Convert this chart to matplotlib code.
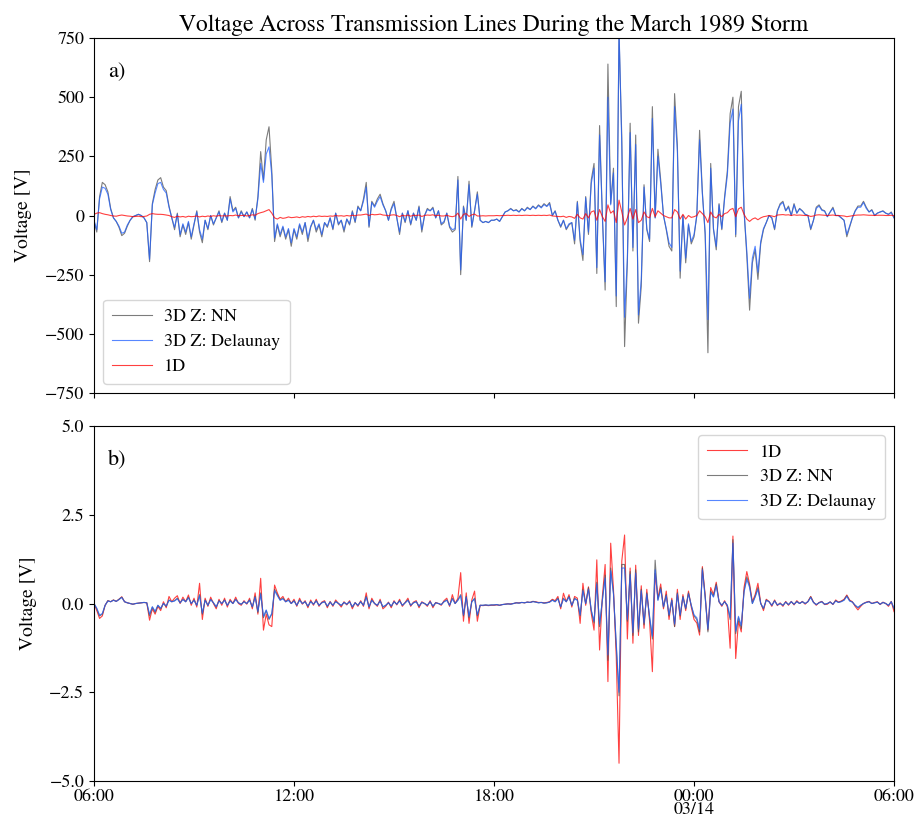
import numpy as np
import matplotlib
matplotlib.use("Agg")
import matplotlib.pyplot as plt
from matplotlib.ticker import FuncFormatter

plt.rcParams['font.family'] = ['STIXGeneral', 'DejaVu Serif']
plt.rcParams['mathtext.fontset'] = 'stix'
plt.rcParams['axes.unicode_minus'] = True

# ---------------- data (5-minute samples, 1989-03-13 06:00 -> 03-14 06:00) ----------------
start = np.datetime64('1989-03-13T06:00')
step_minutes = 5

# Panel a) large line [V]
nn_a = [
    -25, -70, 80, 140, 130, 100, 30, -10, -25, -50, -85, -75,
    -45, -20, -5, 0, 5, 0, -10, -30, -195, 50, 110, 150,
    160, 120, 105, 40, -10, -60, 10, -90, -40, -80, -30, -100,
    -40, 20, -70, -115, -20, -60, 0, -40, -10, 20, -30, 10,
    -20, 80, 20, 35, -10, 20, -5, 15, -10, 30, -20, 80,
    270, 150, 320, 375, 190, -110, -40, -90, -50, -100, -60, -130,
    -60, -100, -40, -80, -30, -110, -50, -20, -70, -40, -90, -30,
    -50, -10, -60, 10, -40, -20, -70, -15, -40, 20, -30, 40,
    20, 70, 140, -50, 60, 40, 70, 90, 50, 20, -20, 30,
    60, -10, -80, 10, -30, 20, -40, 10, -20, 40, -70, 0,
    30, 20, 35, -10, 20, -40, -30, 10, -50, -70, -60, 165,
    -250, 40, -20, 145, -50, 20, 100, -20, -30, -25, -30, -20,
    -20, -15, -25, -5, 15, 20, 30, 20, 25, 15, 30, 20,
    35, 25, 40, 30, 45, 35, 50, 40, 55, 0, 20, -20,
    -50, -20, -60, -40, -30, -120, 60, -110, -190, 80, -80, 150,
    220, -245, 380, 0, -315, 640, 50, 200, -385, 770, 330, -554,
    -200, 390, -150, 340, -455, -300, 130, -60, -110, 460, -10, 280,
    150, 0, -60, -130, -150, 515, 300, -265, 0, -200, -40, -120,
    -90, 0, 360, 100, -80, -580, 220, -60, -145, 50, -60, 80,
    190, 430, 500, -90, 460, 525, 20, -170, -400, -200, -145, -270,
    -120, -60, -30, 0, -10, -60, 20, 50, 60, 20, 40, 0,
    50, 10, 30, 20, 5, 0, -60, -20, 35, 45, 25, 20,
    -5, 15, 35, 0, 0, -10, -20, -90, -50, -10, 20, 40,
    40, 60, 35, 15, 25, 0, 10, 15, 20, 10, 5, 15, -10,
]
delaunay_a = [
    -20, -60, 70, 120, 115, 90, 25, -10, -25, -45, -75, -70,
    -40, -20, -5, 0, 5, 0, -10, -30, -185, 45, 95, 135,
    140, 110, 95, 35, -10, -50, 5, -80, -35, -70, -25, -90,
    -35, 15, -60, -100, -20, -55, 0, -35, -10, 15, -25, 10,
    -20, 70, 15, 30, -10, 15, -5, 15, -10, 25, -15, 70,
    220, 140, 260, 290, 170, -95, -35, -80, -45, -90, -55, -115,
    -55, -90, -35, -70, -30, -95, -45, -20, -60, -35, -80, -30,
    -45, -10, -55, 10, -35, -20, -60, -15, -35, 15, -25, 35,
    20, 60, 120, -45, 55, 35, 60, 80, 45, 20, -20, 25,
    50, -10, -70, 10, -25, 20, -35, 10, -20, 35, -60, 0,
    25, 20, 30, -10, 20, -35, -25, 10, -45, -60, -55, 150,
    -230, 35, -20, 130, -45, 20, 90, -20, -30, -25, -30, -20,
    -20, -15, -25, -5, 15, 20, 28, 20, 22, 15, 28, 20,
    32, 25, 38, 28, 42, 32, 46, 38, 50, 0, 18, -20,
    -45, -20, -55, -35, -30, -105, 55, -100, -165, 75, -70, 135,
    200, -220, 340, 0, -280, 500, 45, 180, -340, 790, 290, -430,
    -180, 350, -135, 300, -420, -270, 120, -55, -100, 410, -10, 250,
    135, 0, -55, -115, -135, 460, 270, -235, 0, -180, -35, -110,
    -80, 0, 320, 90, -70, -440, 200, -55, -130, 45, -55, 70,
    170, 390, 450, -80, 400, 470, 20, -150, -350, -180, -130, -240,
    -110, -55, -30, 0, -10, -55, 18, 45, 55, 20, 35, 0,
    45, 10, 28, 18, 5, 0, -55, -20, 30, 40, 22, 18,
    -5, 15, 30, 0, 0, -10, -20, -80, -45, -10, 18, 35,
    35, 55, 30, 15, 22, 0, 10, 15, 18, 10, 5, 12, -10,
]
oned_a = [
    5, 10, 12, 8, 5, 3, 0, -2, -3, 0, 2, 0,
    -2, -3, -5, -4, -3, -5, -4, -2, 5, 8, 6, 5,
    5, 4, 2, 0, -5, -8, -3, -6, -4, -7, -3, -5,
    -4, -2, -6, -3, -5, -2, -4, -1, -3, 0, -2, -1,
    -2, 0, -1, 2, -1, 0, 1, -2, 0, 3, 1, 8,
    12, 15, 20, 25, 10, -10, -15, -8, -12, -10, -6, -9,
    -8, -6, -9, -5, -7, -4, -6, -3, -5, -2, -4, -3,
    -4, -2, -3, 0, -2, -1, -3, 0, -2, 1, -1, 2,
    2, 4, 6, 0, 5, 3, 4, 6, 2, 1, -1, 2,
    3, 0, -5, 1, -2, 2, -3, 1, 0, 2, -4, 0,
    2, 1, 3, -1, 1, -2, -2, 1, -3, -5, -2, 10,
    -15, 5, 8, -4, 3, 6, -2, -2, -1, -2, -1, -1,
    -1, 0, -1, 0, 0, 1, 0, 1, 0, 1, 0, 1,
    1, 0, 1, 0, 1, 0, 1, 0, 2, -2, -3, -4,
    -5, -3, -8, -4, -6, -12, 5, -10, -15, 8, -10, 15,
    20, -20, 25, -5, -25, 45, 10, 20, -30, 65, 15, -40,
    -10, 30, -15, 25, -30, -20, 15, -5, -10, 30, -5, 20,
    10, 0, -5, -10, -10, 25, 15, -15, 5, -15, 0, -8,
    -5, 0, 20, 8, -5, -30, 15, -5, -10, 5, -5, 8,
    12, 25, 30, -5, 28, 35, 5, -15, -25, -15, -10, -18,
    -10, -5, -3, 0, -2, -5, 2, 3, 4, 2, 3, 0,
    3, 1, 2, 1, 0, 0, -4, -2, 2, 3, 2, 1,
    0, 1, 2, 0, 0, -1, -2, -5, -3, -1, 1, 2,
    2, 3, 2, 1, 1, 0, 1, 1, 1, 0, 0, 1, -1,
]

# Panel b) small line [V]
oned_b = [
    0.0, -0.2, -0.42, -0.35, -0.05, 0.08, 0.05, 0.10, 0.06, 0.12, 0.19, 0.05,
    0.02, 0.0, -0.02, 0.0, 0.01, 0.02, 0.03, 0.02, -0.47, -0.15, -0.30, -0.08,
    -0.20, 0.05, -0.12, 0.20, 0.05, 0.15, 0.22, 0.0, 0.18, 0.05, 0.24, -0.05,
    0.15, -0.10, 0.57, -0.45, 0.15, -0.08, 0.18, 0.0, -0.15, 0.12, -0.05, 0.15,
    -0.10, 0.12, 0.0, 0.18, 0.0, -0.05, 0.08, -0.02, 0.15, -0.15, 0.30, -0.30,
    0.71, -0.75, -0.30, -0.60, -0.65, 0.52, 0.30, 0.12, 0.20, 0.05, 0.15, 0.0,
    0.12, -0.08, 0.15, -0.02, 0.08, -0.12, 0.10, -0.05, 0.12, -0.08, 0.04, 0.08,
    -0.12, 0.06, -0.08, 0.10, 0.0, -0.10, 0.05, -0.04, 0.08, -0.15, 0.03, -0.08,
    0.08, -0.08, 0.30, -0.15, 0.15, 0.0, -0.08, 0.12, -0.15, -0.08, 0.04, -0.12,
    0.08, -0.04, 0.12, -0.08, 0.03, 0.15, -0.08, 0.04, 0.08, -0.12, 0.05, 0.0,
    -0.08, 0.08, -0.12, 0.03, 0.0, -0.05, 0.08, 0.15, -0.08, 0.25, 0.0, 0.15,
    0.87, -0.50, 0.30, -0.56, 0.10, 0.35, -0.50, -0.05, -0.06, -0.05, -0.06, -0.05,
    -0.05, -0.04, -0.05, -0.03, -0.02, -0.01, -0.01, 0.0, 0.02, 0.02, 0.03, 0.02,
    0.04, 0.03, 0.06, 0.05, 0.03, 0.03, 0.02, 0.03, 0.05, 0.12, 0.08, 0.20,
    -0.15, 0.29, 0.05, 0.25, -0.10, 0.20, 0.15, -0.56, 0.57, -0.05, 0.47, -0.28,
    -0.75, 1.23, -1.31, 0.20, 1.10, -2.20, 1.70, 0.40, -1.50, -4.50, 1.20, 1.93,
    -1.00, 1.00, -1.12, 1.08, -0.90, 0.50, -0.70, 0.40, -0.50, -1.92, 0.85, 0.15,
    0.55, -0.15, 0.35, -0.45, 0.15, -0.65, 0.40, -0.45, 0.25, -0.20, 0.35, -0.10,
    -0.45, -0.55, -0.89, 1.04, 0.25, -0.75, 0.45, 0.25, 0.60, 0.05, -0.08, 0.08,
    -0.10, -1.26, 1.90, -1.55, -0.50, -0.80, 0.45, 0.90, 0.55, 0.05, 0.25, 0.57,
    0.02, -0.20, 0.12, 0.06, -0.08, 0.10, -0.06, 0.02, -0.08, 0.06, -0.05, 0.06,
    -0.04, 0.08, 0.0, 0.06, -0.02, 0.06, 0.20, 0.04, -0.05, 0.03, 0.06, -0.03,
    -0.02, 0.05, -0.03, 0.10, 0.04, 0.07, 0.12, 0.24, 0.10, 0.05, -0.08, -0.18,
    -0.08, 0.0, 0.04, 0.06, 0.0, 0.03, 0.05, -0.03, 0.04, 0.0, -0.08, 0.06, -0.23,
]
nn_b = [
    0.0, -0.15, -0.35, -0.30, -0.05, 0.08, 0.05, 0.10, 0.06, 0.12, 0.18, 0.05,
    0.02, 0.0, -0.02, 0.0, 0.01, 0.02, 0.03, 0.02, -0.35, -0.10, -0.25, -0.05,
    -0.15, 0.0, -0.08, 0.10, 0.05, 0.08, 0.15, 0.02, 0.12, 0.05, 0.18, 0.0,
    0.10, -0.05, 0.25, -0.30, 0.10, -0.05, 0.12, 0.02, -0.10, 0.08, 0.0, 0.10,
    -0.05, 0.08, 0.0, 0.12, 0.02, -0.02, 0.05, 0.0, 0.10, -0.10, 0.20, -0.25,
    0.30, -0.40, -0.20, -0.45, -0.30, 0.40, 0.25, 0.10, 0.15, 0.05, 0.10, 0.0,
    0.08, -0.05, 0.10, 0.0, 0.05, -0.08, 0.06, -0.02, 0.08, -0.05, 0.02, 0.05,
    -0.08, 0.04, -0.05, 0.06, 0.0, -0.06, 0.03, -0.02, 0.05, -0.10, 0.02, -0.05,
    0.05, -0.05, 0.20, -0.10, 0.10, 0.0, -0.05, 0.08, -0.10, -0.05, 0.02, -0.08,
    0.05, -0.02, 0.08, -0.05, 0.02, 0.10, -0.05, 0.02, 0.05, -0.08, 0.03, 0.0,
    -0.05, 0.05, -0.08, 0.02, 0.0, -0.03, 0.05, 0.10, -0.05, 0.15, 0.0, 0.10,
    0.25, -0.35, 0.20, -0.40, 0.05, 0.15, -0.35, -0.05, -0.05, -0.04, -0.05, -0.04,
    -0.04, -0.03, -0.05, -0.03, -0.02, -0.01, -0.02, 0.0, 0.02, 0.01, 0.03, 0.02,
    0.04, 0.03, 0.06, 0.04, 0.02, 0.03, 0.01, 0.02, 0.04, 0.10, 0.05, 0.15,
    -0.10, 0.15, 0.05, 0.20, -0.05, 0.15, 0.10, -0.35, 0.40, 0.0, 0.45, -0.20,
    -0.55, 0.60, -0.65, 0.10, 0.80, -1.60, 1.00, 0.30, -1.20, -2.60, 1.10, 1.10,
    -0.50, 0.90, -0.90, 0.95, -0.80, 0.40, -0.60, 0.30, -0.40, -1.00, 1.22, 0.10,
    0.45, -0.10, 0.25, -0.35, 0.10, -0.65, 0.30, -0.35, 0.20, -0.15, 0.30, -0.05,
    -0.35, -0.45, -0.80, 1.00, 0.20, -0.80, 0.35, 0.20, 0.55, 0.05, -0.05, 0.05,
    -0.05, -0.45, 1.80, -0.85, -0.40, -0.70, 0.35, 0.75, 0.50, 0.0, 0.20, 0.45,
    0.0, -0.15, 0.10, 0.05, -0.05, 0.08, -0.04, 0.0, -0.05, 0.04, -0.03, 0.05,
    -0.02, 0.06, 0.0, 0.05, 0.0, 0.05, 0.19, 0.03, -0.03, 0.02, 0.05, -0.02,
    0.0, 0.04, -0.02, 0.08, 0.03, 0.06, 0.10, 0.22, 0.08, 0.04, -0.05, -0.12,
    -0.05, 0.0, 0.03, 0.05, 0.0, 0.02, 0.04, -0.02, 0.03, 0.0, -0.05, 0.05, -0.15,
]
delaunay_b = [
    0.0, -0.13, -0.33, -0.28, -0.05, 0.07, 0.05, 0.09, 0.06, 0.11, 0.17, 0.05,
    0.02, 0.0, -0.02, 0.0, 0.01, 0.02, 0.03, 0.02, -0.30, -0.09, -0.22, -0.05,
    -0.13, 0.0, -0.07, 0.09, 0.05, 0.07, 0.13, 0.02, 0.11, 0.05, 0.16, 0.0,
    0.09, -0.05, 0.22, -0.27, 0.09, -0.05, 0.11, 0.02, -0.09, 0.07, 0.0, 0.09,
    -0.05, 0.07, 0.0, 0.11, 0.02, -0.02, 0.05, 0.0, 0.09, -0.09, 0.18, -0.22,
    0.27, -0.36, -0.18, -0.42, -0.28, 0.36, 0.22, 0.09, 0.13, 0.05, 0.09, 0.0,
    0.07, -0.05, 0.09, 0.0, 0.05, -0.07, 0.05, -0.02, 0.07, -0.05, 0.02, 0.05,
    -0.07, 0.04, -0.05, 0.05, 0.0, -0.05, 0.03, -0.02, 0.05, -0.09, 0.02, -0.05,
    0.05, -0.05, 0.18, -0.09, 0.09, 0.0, -0.05, 0.07, -0.09, -0.05, 0.02, -0.07,
    0.05, -0.02, 0.07, -0.05, 0.02, 0.09, -0.05, 0.02, 0.05, -0.07, 0.03, 0.0,
    -0.05, 0.05, -0.07, 0.02, 0.0, -0.03, 0.05, 0.09, -0.05, 0.13, 0.0, 0.09,
    0.22, -0.32, 0.18, -0.36, 0.05, 0.13, -0.32, -0.05, -0.05, -0.04, -0.05, -0.04,
    -0.04, -0.03, -0.05, -0.03, -0.02, -0.01, -0.02, 0.0, 0.02, 0.01, 0.03, 0.02,
    0.04, 0.03, 0.05, 0.04, 0.02, 0.03, 0.01, 0.02, 0.04, 0.09, 0.05, 0.13,
    -0.09, 0.13, 0.05, 0.18, -0.05, 0.13, 0.09, -0.32, 0.36, 0.0, 0.40, -0.18,
    -0.50, 0.55, -0.58, 0.09, 0.72, -1.45, 0.92, 0.27, -1.10, -2.50, 1.00, 1.00,
    -0.45, 0.82, -0.82, 0.86, -0.72, 0.36, -0.55, 0.27, -0.36, -0.92, 0.95, 0.09,
    0.40, -0.09, 0.22, -0.32, 0.09, -0.58, 0.27, -0.32, 0.18, -0.13, 0.27, -0.05,
    -0.32, -0.40, -0.72, 0.95, 0.18, -0.72, 0.32, 0.18, 0.50, 0.05, -0.05, 0.05,
    -0.05, -0.40, 1.70, -0.78, -0.36, -0.62, 0.32, 0.68, 0.45, 0.0, 0.18, 0.40,
    0.0, -0.13, 0.09, 0.05, -0.05, 0.07, -0.04, 0.0, -0.05, 0.04, -0.03, 0.05,
    -0.02, 0.05, 0.0, 0.05, 0.0, 0.05, 0.17, 0.03, -0.03, 0.02, 0.05, -0.02,
    0.0, 0.04, -0.02, 0.07, 0.03, 0.05, 0.09, 0.20, 0.07, 0.04, -0.05, -0.11,
    -0.05, 0.0, 0.03, 0.05, 0.0, 0.02, 0.04, -0.02, 0.03, 0.0, -0.05, 0.05, -0.13,
]

tick_labels = ['06:00', '12:00', '18:00', '00:00\n03/14', '06:00']
title = 'Voltage Across Transmission Lines During the March 1989 Storm'

# ---------------- plotting ----------------
n = len(nn_a)
times = (start + np.arange(n) * np.timedelta64(step_minutes, 'm')).astype('datetime64[ms]').astype(object)

c_nn = '#505050'
c_del = '#1f5fff'
c_1d = '#ff0000'
lw = 0.8
al = 0.75

fig = plt.figure(figsize=(9.18, 8.16), dpi=100)
ax1 = fig.add_axes([0.1024, 0.5184, 0.8715, 0.4350])
ax2 = fig.add_axes([0.1024, 0.0429, 0.8715, 0.4350], sharex=ax1)

ax1.plot(times, nn_a, color=c_nn, lw=lw, alpha=al, label='3D Z: NN')
ax1.plot(times, delaunay_a, color=c_del, lw=lw, alpha=al, label='3D Z: Delaunay')
ax1.plot(times, oned_a, color=c_1d, lw=lw, alpha=al, label='1D')
ax1.set_ylim(-750, 750)
ax1.set_yticks([-750, -500, -250, 0, 250, 500, 750])
ax1.set_ylabel('Voltage [V]', fontsize=14, labelpad=9)
ax1.legend(loc='lower left', fontsize=13, handlelength=2.2, handletextpad=0.7,
           borderpad=0.5, labelspacing=0.45)
ax1.text(0.018, 0.89, 'a)', transform=ax1.transAxes, fontsize=16)
ax1.set_title(title, fontsize=17, pad=5)

ax2.plot(times, oned_b, color=c_1d, lw=lw, alpha=al, label='1D')
ax2.plot(times, nn_b, color=c_nn, lw=lw, alpha=al, label='3D Z: NN')
ax2.plot(times, delaunay_b, color=c_del, lw=lw, alpha=al, label='3D Z: Delaunay')
ax2.set_ylim(-5, 5)
ax2.set_yticks([-5.0, -2.5, 0.0, 2.5, 5.0])
ax2.yaxis.set_major_formatter(FuncFormatter(lambda v, p: f'{v:.1f}'.replace('-', '\u2212')))
ax2.set_ylabel('Voltage [V]', fontsize=14, labelpad=9)
ax2.legend(loc='upper right', fontsize=13, handlelength=2.2, handletextpad=0.7,
           borderpad=0.5, labelspacing=0.45)
ax2.text(0.018, 0.89, 'b)', transform=ax2.transAxes, fontsize=16)

tick_times = (np.datetime64('1989-03-13T06:00') + np.arange(5) * np.timedelta64(6, 'h')).astype('datetime64[ms]').astype(object)
ax2.set_xlim(tick_times[0], tick_times[-1])
ax2.set_xticks(tick_times)
ax2.set_xticklabels(tick_labels, linespacing=0.75)
plt.setp(ax1.get_xticklabels(), visible=False)

for ax in (ax1, ax2):
    ax.tick_params(labelsize=13)
ax2.tick_params(axis='x', pad=2)

fig.savefig('out.png', dpi=100)
